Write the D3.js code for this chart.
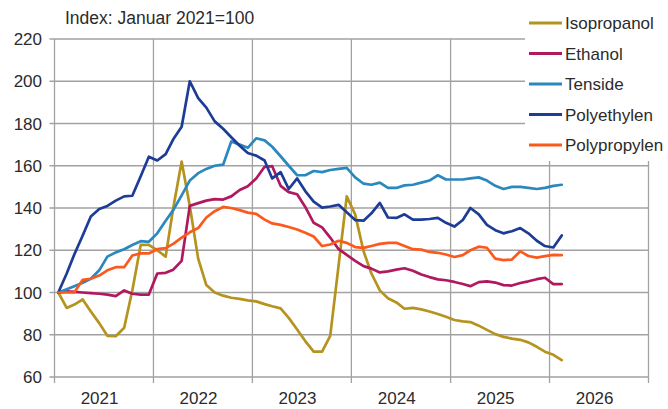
<!DOCTYPE html>
<html>
<head>
<meta charset="utf-8">
<script src="https://cdn.jsdelivr.net/npm/d3@7"></script>
<style>
  body { margin: 0; background: #fff; }
  text { font-family: "Liberation Sans", Arial, sans-serif; fill: #2b2b2b; }
</style>
</head>
<body>
<svg id="chart" width="668" height="409"></svg>
<script>
// monthly index values, Jan 2021 .. Feb 2026 (Januar 2021 = 100)
var isopropanol = [100, 92.7, 94.3, 96.7, 91, 85.5, 79.5, 79.3, 83.3, 101, 122.5, 122.5,
  120, 117, 140, 162, 141, 116, 103.5, 100, 98.5, 97.5, 97, 96.3,
  95.8, 94.5, 93.5, 92.5, 88, 82.5, 77, 72, 72, 79.5, 113, 145.5,
  137, 119.5, 109, 101, 97.3, 95.3, 92.3, 92.7, 92, 91, 89.8, 88.5,
  87, 86.3, 86, 84.3, 82.3, 80.3, 79, 78.2, 77.6, 76.4, 74.3, 72,
  70.5, 68];
var ethanol = [100, 100.5, 100.3, 100, 99.7, 99.4, 99, 98.3, 101, 99.4, 99, 99,
  109, 109.3, 110.8, 115, 141, 142.3, 143.5, 144.2, 144, 145.5, 148.5, 150.3,
  154, 159.5, 159.8, 150.5, 147.5, 146.5, 140.5, 133, 130.8, 126, 120.5, 117.8,
  115, 112.5, 111.3, 109.5, 110, 110.8, 111.5, 110.3, 108.5, 107.3, 106.2, 105.8,
  105, 104, 103, 104.9, 105.3, 104.7, 103.5, 103.3, 104.5, 105.3, 106.3, 107,
  104, 104];
var tenside = [100, 101.5, 103, 104.6, 106.5, 110.5, 117, 119, 120.5, 122.5, 124.3, 124,
  128, 134, 139, 146, 153, 156.5, 158.5, 160, 160.5, 171.5, 170, 168.5,
  173, 172, 169, 164.5, 160, 155.5, 155.5, 157.5, 157, 158, 158.5, 159,
  154.5, 151.5, 151, 152, 149.5, 149.5, 150.7, 151, 152, 153, 155.5, 153.5,
  153.5, 153.5, 154, 154.5, 153, 150.5, 149, 150, 150, 149.5, 149, 149.5,
  150.5, 151];
var polyethylen = [100, 109, 118, 127, 136, 139.5, 141, 143.5, 145.5, 145.8, 155, 164.3,
  162.5, 165.5, 172.5, 178.5, 200, 192, 187.5, 181, 177.5, 173.5, 169.5, 166,
  164.8, 162.5, 154, 157, 149, 154, 148, 143, 140.2, 140.7, 141.5, 138,
  134.3, 134, 137.5, 142.4, 135.5, 135.3, 137, 134.5, 134.5, 134.8, 135.3, 133,
  131.2, 134.3, 140, 137, 132, 129.5, 128, 129, 130.5, 128, 124.5, 122,
  121.3, 127];
var polypropylen = [100, 100, 100, 106, 106.5, 108, 110.5, 112, 112, 117.5, 118.5, 118.5,
  120.5, 121, 123, 126, 128.5, 130.5, 135.5, 138.5, 140.5, 140, 139, 137.8,
  137.2, 134.5, 132.7, 132, 131, 129.8, 128.3, 126.5, 122, 122.7, 124.5, 123.5,
  121.5, 121.1, 122, 123, 123.5, 123.5, 122, 120.5, 120.3, 119.2, 118.8, 118,
  116.8, 117.7, 120, 121.7, 121.2, 116, 115.3, 115.6, 119.5, 117.3, 116.5, 117.2,
  117.8, 117.7];

var seriesNames = ["Isopropanol", "Ethanol", "Tenside", "Polyethylen", "Polypropylen"];
var seriesValues = [isopropanol, ethanol, tenside, polyethylen, polypropylen];
var seriesColors = ["#b5931f", "#b0195f", "#2b88bf", "#1d3c96", "#fb5a1e"];

var yTicks = [60, 80, 100, 120, 140, 160, 180, 200, 220];
var yearLabels = ["2021", "2022", "2023", "2024", "2025", "2026"];
var title = "Index: Januar 2021=100";

var svg = d3.select("#chart");
// note: "top" is taken by window.top, so the plot edges get their own names
var plotLeft = 54.5, plotRight = 648.5, plotTop = 39, plotBottom = 377;

var x = d3.scaleTime()
  .domain([new Date(2021, 0, 1), new Date(2027, 0, 1)])
  .range([plotLeft, plotRight]);
var y = d3.scaleLinear().domain([60, 220]).range([plotBottom, plotTop]);

// data points sit in the middle of each month
function monthDate(i) { return new Date(2021, i, 15); }

var yearStarts = yearLabels.map(function(d) { return new Date(+d, 0, 1); });
yearStarts.push(new Date(2027, 0, 1));

var grid = svg.append("g").attr("class", "grid")
  .attr("stroke", "#a2a2a2").attr("stroke-width", 1.3);

grid.selectAll("line.h")
  .data(yTicks)
  .enter()
  .append("line")
    .attr("class", "h")
    .attr("x1", plotLeft - 5)
    .attr("x2", plotRight)
    .attr("y1", d => y(d))
    .attr("y2", d => y(d));

grid.selectAll("line.v")
  .data(yearStarts)
  .enter()
  .append("line")
    .attr("class", "v")
    .attr("x1", d => x(d))
    .attr("x2", d => x(d))
    .attr("y1", plotTop)
    .attr("y2", plotBottom + 6);

svg.append("g").selectAll("text")
  .data(yTicks)
  .enter()
  .append("text")
    .attr("x", 42)
    .attr("y", d => y(d) + 6)
    .attr("text-anchor", "end")
    .style("font-size", "17px")
    .text(d => d);

svg.append("g").selectAll("text")
  .data(yearLabels)
  .enter()
  .append("text")
    .attr("x", d => x(new Date(+d, 6, 1)) - 4)
    .attr("y", 404)
    .attr("text-anchor", "middle")
    .style("font-size", "17px")
    .text(d => d);

svg.append("text")
  .attr("x", 65)
  .attr("y", 24)
  .style("font-size", "17.5px")
  .text(title);

// legend sits on a white box over the top right corner of the grid
var legend = svg.append("g").attr("class", "legend");
legend.append("rect")
  .attr("x", 525).attr("y", 0)
  .attr("width", 143).attr("height", 161)
  .attr("fill", "#fff");

var item = legend.selectAll("g.item")
  .data(seriesNames)
  .enter()
  .append("g")
    .attr("class", "item")
    .attr("transform", (d, i) => "translate(529," + (23 + i * 30.5) + ")");

item.append("line")
  .attr("x1", 0).attr("x2", 33)
  .attr("stroke", (d, i) => seriesColors[i])
  .attr("stroke-width", 3);

item.append("text")
  .attr("x", 36)
  .attr("y", 6)
  .style("font-size", "17px")
  .text(d => d);

var line = d3.line()
  .x((d, i) => x(monthDate(i)))
  .y(d => y(d));

svg.append("g").attr("class", "lines")
  .selectAll("path")
  .data(seriesValues)
  .enter()
  .append("path")
    .attr("d", line)
    .attr("fill", "none")
    .attr("stroke", (d, i) => seriesColors[i])
    .attr("stroke-width", 2.7)
    .attr("stroke-linejoin", "round")
    .attr("stroke-linecap", "round");
</script>
</body>
</html>
